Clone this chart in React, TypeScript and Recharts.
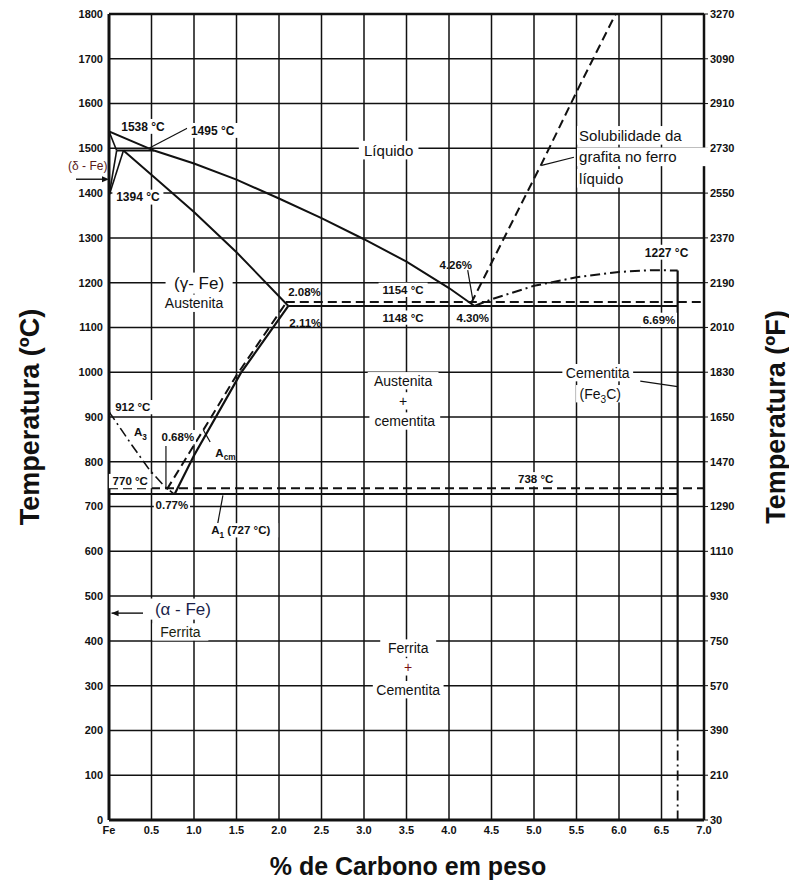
import React from 'react';
import { ComposedChart, Line, XAxis, YAxis, CartesianGrid, ReferenceLine, ReferenceDot } from 'recharts';

// ---------- axis ticks ----------
const xTicks = [0, 0.5, 1, 1.5, 2, 2.5, 3, 3.5, 4, 4.5, 5, 5.5, 6, 6.5, 7];
const xTickLabels = ['Fe', '0.5', '1.0', '1.5', '2.0', '2.5', '3.0', '3.5', '4.0', '4.5', '5.0', '5.5', '6.0', '6.5', '7.0'];
const celsiusTicks = [0, 100, 200, 300, 400, 500, 600, 700, 800, 900, 1000, 1100, 1200, 1300, 1400, 1500, 1600, 1700, 1800];
const fahrenheitLabels = ['30', '210', '390', '570', '750', '930', '1110', '1290', '1470', '1650', '1830', '2010', '2190', '2370', '2550', '2730', '2910', '3090', '3270'];

// ---------- phase boundaries (c = % carbon, t = °C) ----------
const liquidus = [
  { c: 0, t: 1538 }, { c: 0.53, t: 1495 }, { c: 1.0, t: 1466 }, { c: 1.5, t: 1430 }, { c: 2.0, t: 1388 },
  { c: 2.5, t: 1344 }, { c: 3.0, t: 1297 }, { c: 3.5, t: 1247 }, { c: 4.0, t: 1188 }, { c: 4.3, t: 1148 },
];
const deltaSolidus = [{ c: 0, t: 1538 }, { c: 0.09, t: 1495 }];
const deltaBoundaryA = [{ c: 0, t: 1394 }, { c: 0.09, t: 1495 }];
const deltaBoundaryB = [{ c: 0, t: 1394 }, { c: 0.17, t: 1495 }];
const peritectic = [{ c: 0.09, t: 1495 }, { c: 0.53, t: 1495 }];
const solidus = [{ c: 0.17, t: 1495 }, { c: 0.6, t: 1424 }, { c: 1.0, t: 1358 }, { c: 1.5, t: 1268 }, { c: 2.11, t: 1148 }];
const acmSolid = [{ c: 0.77, t: 727 }, { c: 1.0, t: 814 }, { c: 1.55, t: 998 }, { c: 2.11, t: 1148 }];
const acmDashed = [{ c: 0.68, t: 738 }, { c: 1.1, t: 868 }, { c: 1.5, t: 993 }, { c: 2.08, t: 1154 }];
const a3Line = [{ c: 0, t: 912 }, { c: 0.27, t: 837 }, { c: 0.48, t: 781 }, { c: 0.64, t: 748 }, { c: 0.77, t: 727 }];
const eutecticSolid = [{ c: 2.11, t: 1148 }, { c: 6.69, t: 1148 }];
const eutecticDashed = [{ c: 2.08, t: 1157 }, { c: 7.0, t: 1157 }];
const eutectoidSolid = [{ c: 0, t: 728 }, { c: 6.69, t: 728 }];
const eutectoidDashed = [{ c: 0, t: 741 }, { c: 7.0, t: 741 }];
const cementiteLiquidus = [
  { c: 4.3, t: 1148 }, { c: 4.5, t: 1163 }, { c: 5.0, t: 1193 }, { c: 5.5, t: 1212 }, { c: 6.0, t: 1224 },
  { c: 6.4, t: 1228 }, { c: 6.69, t: 1227 },
];
const graphiteSolubility = [{ c: 4.26, t: 1154 }, { c: 5.08, t: 1462 }, { c: 5.55, t: 1645 }, { c: 5.96, t: 1800 }];
const cementiteSolid = [{ c: 6.69, t: 1227 }, { c: 6.69, t: 200 }];
const cementiteDashDot = [{ c: 6.69, t: 200 }, { c: 6.69, t: 0 }];

// ---------- leader lines ----------
const leader1495 = [{ c: 0.92, t: 1545 }, { c: 0.47, t: 1500 }];
const leader426 = [{ c: 4.22, t: 1228 }, { c: 4.28, t: 1162 }];
const leader068 = [{ c: 0.67, t: 835 }, { c: 0.67, t: 745 }];
const leaderAcm = [{ c: 1.19, t: 844 }, { c: 1.11, t: 871 }];
const leaderA1 = [{ c: 1.34, t: 725 }, { c: 1.28, t: 663 }];
const leaderSolub = [{ c: 5.09, t: 1462 }, { c: 5.47, t: 1480 }];
const leaderCementita = [{ c: 6.25, t: 980 }, { c: 6.69, t: 968 }];
const leaderAlpha = [{ c: 0.03, t: 462 }, { c: 0.4, t: 462 }];

const DASH = '9 5';
const DASHDOT = '10 4 2 4';

const series = [
  { d: liquidus, w: 2 }, { d: deltaSolidus, w: 1.6 }, { d: deltaBoundaryA, w: 1.6 }, { d: deltaBoundaryB, w: 1.6 },
  { d: peritectic, w: 2 }, { d: solidus, w: 2 }, { d: acmSolid, w: 2.2 }, { d: acmDashed, w: 2, dash: DASH },
  { d: a3Line, w: 1.6, dash: DASHDOT }, { d: eutecticSolid, w: 2 }, { d: eutecticDashed, w: 2, dash: DASH },
  { d: eutectoidSolid, w: 2 }, { d: eutectoidDashed, w: 2, dash: DASH },
  { d: cementiteLiquidus, w: 2, dash: DASHDOT }, { d: graphiteSolubility, w: 2, dash: DASH },
  { d: leader1495, w: 1.2 }, { d: leader426, w: 1.2 }, { d: leader068, w: 1.2 }, { d: leaderAcm, w: 1.2 },
  { d: leaderA1, w: 1.2 }, { d: leaderSolub, w: 1.2 }, { d: leaderCementita, w: 1.2 }, { d: leaderAlpha, w: 1.4 },
];
const rightSeries = [
  { d: cementiteSolid, w: 2.2 }, { d: cementiteDashDot, w: 1.8, dash: DASHDOT },
];

// ---------- text annotations ----------
type Lbl = { c: number; t: number; text: string; sub?: string; after?: string; size?: number; bold?: boolean; anchor?: 'start' | 'middle' | 'end'; bg?: boolean; color?: string };
const labels: Lbl[] = [
  { c: 0.40, t: 1549, text: '1538 °C', bold: true, bg: true, size: 12 },
  { c: 1.22, t: 1540, text: '1495 °C', bold: true, bg: true, size: 12 },
  { c: 0.34, t: 1391, text: '1394 °C', bold: true, bg: true, size: 12 },
  { c: 3.29, t: 1496, text: 'Líquido', size: 15, bg: true },
  { c: 5.53, t: 1529, text: 'Solubilidade da', size: 15, anchor: 'start', bg: true },
  { c: 5.53, t: 1481, text: 'grafita no ferro', size: 15, anchor: 'start', bg: true },
  { c: 5.53, t: 1433, text: 'líquido', size: 15, anchor: 'start', bg: true },
  { c: 4.08, t: 1240, text: '4.26%', bold: true },
  { c: 6.56, t: 1268, text: '1227 °C', bold: true, bg: true, size: 12 },
  { c: 1.06, t: 1199, text: '(γ- Fe)', size: 17, bg: true },
  { c: 1.00, t: 1154, text: 'Austenita', size: 14, bg: true },
  { c: 2.30, t: 1180, text: '2.08%', bold: true },
  { c: 3.46, t: 1184, text: '1154 °C', bold: true, bg: true },
  { c: 3.46, t: 1122, text: '1148 °C', bold: true, bg: true },
  { c: 4.28, t: 1122, text: '4.30%', bold: true },
  { c: 2.31, t: 1111, text: '2.11%', bold: true },
  { c: 6.47, t: 1117, text: '6.69%', bold: true, bg: true },
  { c: 3.46, t: 981, text: 'Austenita', size: 14, bg: true },
  { c: 3.46, t: 936, text: '+', size: 14, bg: true },
  { c: 3.48, t: 891, text: 'cementita', size: 14, bg: true },
  { c: 5.75, t: 999, text: 'Cementita', size: 14, bg: true },
  { c: 5.78, t: 952, text: '(Fe', sub: '3', after: 'C)', size: 14, bg: true },
  { c: 0.28, t: 922, text: '912 °C', bold: true, bg: true },
  { c: 0.37, t: 866, text: 'A', sub: '3', bold: true, bg: true },
  { c: 0.81, t: 855, text: '0.68%', bold: true, bg: true },
  { c: 1.37, t: 821, text: 'A', sub: 'cm', bold: true },
  { c: 0.25, t: 757, text: '770 °C', bold: true, bg: true },
  { c: 5.02, t: 761, text: '738 °C', bold: true, bg: true },
  { c: 0.74, t: 703, text: '0.77%', bold: true, bg: true },
  { c: 1.55, t: 647, text: 'A', sub: '1', after: ' (727 °C)', bold: true, bg: true },
  { c: 0.87, t: 471, text: '(α - Fe)', size: 17, bg: true, color: '#1b1f4a' },
  { c: 0.84, t: 420, text: 'Ferrita', size: 14, bg: true, color: '#1b1f10' },
  { c: 3.52, t: 384, text: 'Ferrita', size: 14, bg: true },
  { c: 3.52, t: 342, text: '+', size: 14, bg: true, color: '#7a1010' },
  { c: 3.52, t: 291, text: 'Cementita', size: 14, bg: true },
  { c: -0.25, t: 1462, text: '(δ - Fe)', size: 12, color: '#5a1a1a' },
];

const FONT = 'Arial, "Liberation Sans", sans-serif';

function TextShape(props: any) {
  const { cx, cy, lbl } = props as { cx: number; cy: number; lbl: Lbl };
  if (cx == null || cy == null) return null;
  const size = lbl.size ?? 11.5;
  const full = lbl.text + (lbl.sub ?? '') + (lbl.after ?? '');
  const wEst = full.length * size * (lbl.bold ? 0.56 : 0.53) + 4;
  const anchor = lbl.anchor ?? 'middle';
  const x0 = anchor === 'start' ? cx - 2 : anchor === 'end' ? cx - wEst + 2 : cx - wEst / 2;
  return (
    <g>
      {lbl.bg && <rect x={x0} y={cy - size * 0.62} width={wEst} height={size * 1.24} fill="#fff" />}
      <text x={cx} y={cy} dy={size * 0.36} textAnchor={anchor} fontSize={size} fontFamily={FONT}
        fontWeight={lbl.bold ? 'bold' : 'normal'} fill={lbl.color ?? '#111'}>
        <tspan>{lbl.text}</tspan>
        {lbl.sub && <tspan dy={size * 0.3} fontSize={size * 0.72}>{lbl.sub}</tspan>}
        {lbl.after && <tspan dy={-size * 0.3}>{lbl.after}</tspan>}
      </text>
    </g>
  );
}

function DeltaArrow(props: any) {
  const { cx, cy } = props;
  if (cx == null) return null;
  return (
    <g>
      <line x1={cx - 33} y1={cy} x2={cx - 5} y2={cy} stroke="#111" strokeWidth={1.4} />
      <path d={`M${cx} ${cy} L${cx - 7} ${cy - 3} L${cx - 7} ${cy + 3} Z`} fill="#111" />
    </g>
  );
}

function AlphaArrow(props: any) {
  const { cx, cy } = props;
  if (cx == null) return null;
  return <path d={`M${cx} ${cy} L${cx + 7} ${cy - 3} L${cx + 7} ${cy + 3} Z`} fill="#111" />;
}

const W = 789;
const H = 881;
const tickStyle = { fontSize: 11, fontWeight: 'bold', fill: '#111', fontFamily: FONT } as any;

export default function App() {
  return (
    <div style={{ position: 'absolute', left: 0, top: 0, width: W, height: H, background: '#fff', fontFamily: FONT }}>
      <ComposedChart width={W} height={H} margin={{ top: 14, right: 0, bottom: 0, left: 0 }}>
        <CartesianGrid stroke="#111" strokeWidth={1.5} />
        <XAxis type="number" dataKey="c" domain={[0, 7]} ticks={xTicks} interval={0} allowDataOverflow
          height={61} axisLine={{ stroke: '#111', strokeWidth: 3 }} tickLine={false} tickSize={4} tickMargin={2}
          tick={tickStyle} tickFormatter={(v: number) => xTickLabels[xTicks.indexOf(v)] ?? String(v)} />
        <YAxis type="number" domain={[0, 1800]} ticks={celsiusTicks} interval={0} allowDataOverflow width={109}
          axisLine={{ stroke: '#111', strokeWidth: 3 }} tickLine={false} tickSize={4} tickMargin={2} tick={tickStyle} />
        <YAxis yAxisId="right" orientation="right" type="number" domain={[0, 1800]} ticks={celsiusTicks} interval={0}
          allowDataOverflow width={85} axisLine={{ stroke: '#111', strokeWidth: 2.5 }} tickLine={{ stroke: '#111' }}
          tickSize={4} tickMargin={2} tick={tickStyle}
          tickFormatter={(v: number) => fahrenheitLabels[celsiusTicks.indexOf(v)] ?? ''} />
        <ReferenceLine y={1800} stroke="#111" strokeWidth={2.5} />
        {series.map((s, i) => (
          <Line key={'s' + i} data={s.d} dataKey="t" type="linear" dot={false} activeDot={false}
            stroke="#111" strokeWidth={s.w} strokeDasharray={(s as any).dash} isAnimationActive={false} />
        ))}
        {rightSeries.map((s, i) => (
          <Line key={'r' + i} yAxisId="right" data={s.d} dataKey="t" type="linear" dot={false} activeDot={false}
            stroke="#111" strokeWidth={s.w} strokeDasharray={(s as any).dash} isAnimationActive={false} />
        ))}
        <ReferenceDot x={0} y={1431} r={0} ifOverflow="visible" shape={(p: any) => <DeltaArrow {...p} />} />
        <ReferenceDot x={0.03} y={462} r={0} ifOverflow="visible" shape={(p: any) => <AlphaArrow {...p} />} />
        {labels.map((l, i) => (
          <ReferenceDot key={'l' + i} x={l.c} y={l.t} r={0} ifOverflow="visible"
            shape={(p: any) => <TextShape {...p} lbl={l} />} />
        ))}
      </ComposedChart>
      <div style={{ position: 'absolute', left: 30, top: 417, transform: 'translate(-50%, -50%) rotate(-90deg)', whiteSpace: 'nowrap', fontWeight: 'bold', fontSize: 27, color: '#111' }}>
        Temperatura (ºC)
      </div>
      <div style={{ position: 'absolute', left: 776, top: 417, transform: 'translate(-50%, -50%) rotate(-90deg)', whiteSpace: 'nowrap', fontWeight: 'bold', fontSize: 27, color: '#111' }}>
        Temperatura (ºF)
      </div>
      <div style={{ position: 'absolute', left: 408, top: 866, transform: 'translate(-50%, -50%)', whiteSpace: 'nowrap', fontWeight: 'bold', fontSize: 25, color: '#111' }}>
        % de Carbono em peso
      </div>
    </div>
  );
}
